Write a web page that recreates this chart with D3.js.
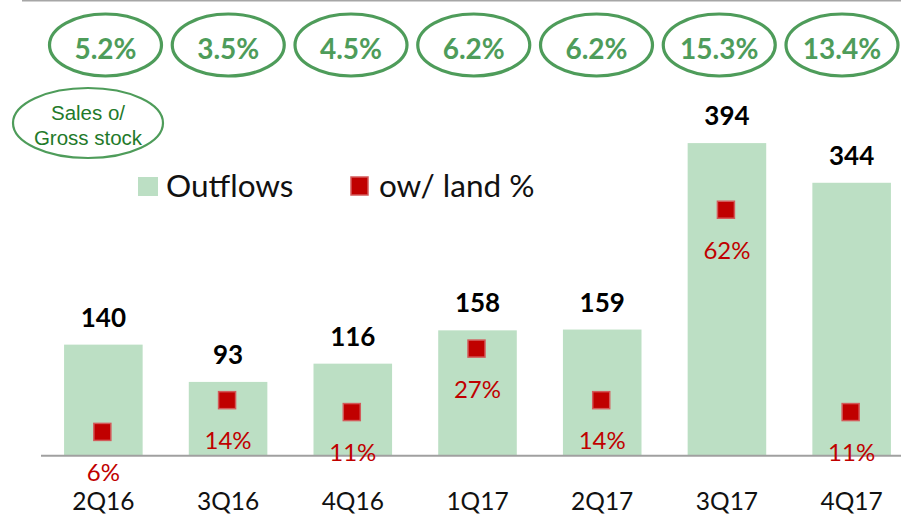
<!DOCTYPE html>
<html>
<head>
<meta charset="utf-8">
<script src="https://cdn.jsdelivr.net/npm/d3@7"></script>
<style>
  html, body { margin: 0; padding: 0; background: #fff; }
  svg { display: block; }
</style>
</head>
<body>
<svg id="chart" width="901" height="516"></svg>
<script>
// Quarterly outflows, share with land, and sales over gross stock
const quarters = ["2Q16", "3Q16", "4Q16", "1Q17", "2Q17", "3Q17", "4Q17"];
const outflows = [140, 93, 116, 158, 159, 394, 344];
const landShare = [0.06, 0.14, 0.11, 0.27, 0.14, 0.62, 0.11];
const salesOverStock = ["5.2%", "3.5%", "4.5%", "6.2%", "6.2%", "15.3%", "13.4%"];

const svg = d3.select("#chart");
const W = 901, H = 516;
const plot = { left: 41, right: 914, top: 59, bottom: 455.7 };

const barColor = "#BCDFC4";
const markerColor = "#C00000";
const ringColor = "#4E9C5A";
const font = "Lato, 'Open Sans', sans-serif";

const x = d3.scaleBand().domain(quarters).range([plot.left, plot.right]).paddingInner(0.37).paddingOuter(0.185);
const y = d3.scaleLinear().domain([0, 500]).range([plot.bottom, plot.top]);
const y2 = d3.scaleLinear().domain([0, 1]).range([plot.bottom, plot.top]);
const ringX = d3.scalePoint().domain(quarters).range([105.5, 842]);

// frame line along the top edge
svg.append("line")
  .attr("x1", 22).attr("x2", W).attr("y1", 0.5).attr("y2", 0.5)
  .attr("stroke", "#A6A6A6").attr("stroke-width", 2);

// bars
svg.append("g").selectAll("rect").data(quarters).join("rect")
  .attr("x", d => x(d))
  .attr("width", x.bandwidth())
  .attr("y", (d, i) => y(outflows[i]))
  .attr("height", (d, i) => plot.bottom - y(outflows[i]))
  .attr("fill", barColor);

// category axis
const xAxis = svg.append("g")
  .attr("transform", `translate(0,${plot.bottom})`)
  .call(d3.axisBottom(x).tickSize(0).tickPadding(0));
xAxis.select(".domain").attr("stroke", "#A0A0A0").attr("stroke-width", 2)
  .attr("d", `M${plot.left},0H${W}`);
xAxis.selectAll(".tick text")
  .attr("y", 54).attr("dy", null)
  .attr("font-family", font).attr("font-size", 24.5).attr("fill", "#111");

// bar value labels
svg.append("g").selectAll("text").data(quarters).join("text")
  .attr("x", d => x(d) + x.bandwidth() / 2)
  .attr("y", (d, i) => y(outflows[i]) - 18)
  .attr("text-anchor", "middle")
  .attr("font-family", font).attr("font-weight", 700).attr("font-size", 26)
  .attr("fill", "#000")
  .text((d, i) => outflows[i]);

// land share markers
const ms = 17;
svg.append("g").selectAll("rect").data(quarters).join("rect")
  .attr("x", d => x(d) + x.bandwidth() / 2 - ms / 2 - 1)
  .attr("y", (d, i) => y2(landShare[i]) - ms / 2)
  .attr("width", ms).attr("height", ms)
  .attr("fill", markerColor)
  .attr("stroke", "#D35A5A").attr("stroke-width", 1.5);

// land share labels
svg.append("g").selectAll("text").data(quarters).join("text")
  .attr("x", d => x(d) + x.bandwidth() / 2)
  .attr("y", (d, i) => y2(landShare[i]) + 49)
  .attr("text-anchor", "middle")
  .attr("font-family", font).attr("font-size", 24)
  .attr("fill", markerColor)
  .text((d, i) => Math.round(landShare[i] * 100) + "%");

// sales / gross stock callouts
const rings = svg.append("g").selectAll("g").data(quarters).join("g")
  .attr("transform", d => `translate(${ringX(d)},45)`);
rings.append("ellipse")
  .attr("rx", 56).attr("ry", 31)
  .attr("fill", "none").attr("stroke", ringColor).attr("stroke-width", 3.2);
rings.append("text")
  .attr("y", 14)
  .attr("text-anchor", "middle")
  .attr("font-family", font).attr("font-weight", 700).attr("font-size", 28)
  .attr("fill", ringColor)
  .text((d, i) => salesOverStock[i]);

// callout key
const key = svg.append("g").attr("transform", "translate(88,123)");
key.append("ellipse").attr("rx", 75).attr("ry", 35)
  .attr("fill", "none").attr("stroke", ringColor).attr("stroke-width", 2.2);
key.append("text").attr("y", -3).attr("text-anchor", "middle")
  .attr("font-family", "'Liberation Sans', Arial, sans-serif").attr("font-size", 20.5)
  .attr("fill", "#1F7A2A").text("Sales o/");
key.append("text").attr("y", 22).attr("text-anchor", "middle")
  .attr("font-family", "'Liberation Sans', Arial, sans-serif").attr("font-size", 20.5)
  .attr("fill", "#1F7A2A").text("Gross stock");

// legend
const legend = svg.append("g").attr("font-family", font).attr("font-size", 31.5).attr("fill", "#111");
legend.append("rect").attr("x", 138).attr("y", 177).attr("width", 20).attr("height", 19).attr("fill", barColor);
legend.append("text").attr("x", 166).attr("y", 197).text("Outflows");
legend.append("rect").attr("x", 351).attr("y", 177).attr("width", 17).attr("height", 18)
  .attr("fill", markerColor).attr("stroke", "#D35A5A").attr("stroke-width", 1.5);
legend.append("text").attr("x", 379).attr("y", 197).text("ow/ land %");
</script>
</body>
</html>
